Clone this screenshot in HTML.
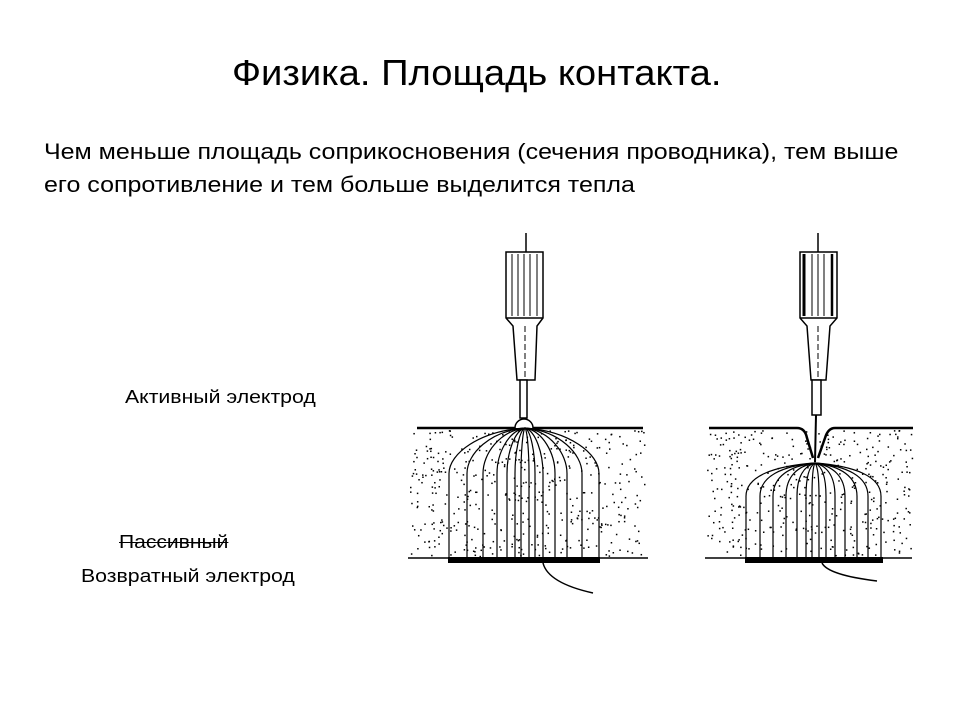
<!DOCTYPE html>
<html><head><meta charset="utf-8"><style>
body{margin:0;width:960px;height:720px;background:#fff;font-family:"Liberation Sans",sans-serif;position:relative;overflow:hidden;color:#000}
.t{position:absolute;white-space:nowrap;transform-origin:0 0}
</style></head><body>
<div class="t" style="left:232px;top:52px;font-size:36px;transform:scaleX(1.06)">Физика. Площадь контакта.</div>
<div class="t" style="left:44px;top:135px;font-size:22px;line-height:33px;transform:scaleX(1.136)">Чем меньше площадь соприкосновения (сечения проводника), тем выше<br>его сопротивление и тем больше выделится тепла</div>
<div class="t" style="left:125px;top:387px;font-size:18px;transform:scaleX(1.18)">Активный электрод</div>
<div class="t" style="left:119px;top:532px;font-size:18px;text-decoration:line-through;transform:scaleX(1.17)">Пассивный</div>
<div class="t" style="left:81px;top:566px;font-size:18px;transform:scaleX(1.18)">Возвратный электрод</div>
<svg width="960" height="720" style="position:absolute;left:0;top:0" fill="none" stroke="#000" stroke-width="1.5">
<g id="dots" fill="#000" stroke="none"></g>
<line x1="417" y1="428" x2="643" y2="428" stroke-width="2.5"/>
<line x1="408" y1="558" x2="648" y2="558" stroke-width="1.5"/>
<rect x="448" y="557" width="152" height="6" fill="#000" stroke="none"/>
<path d="M543 563 q5 20 50 30"/>
<line x1="526" y1="233" x2="526" y2="252"/>
<path d="M506 252 L543 252 L543 318 L537 326 L535 380 L517 380 L513 326 L506 318 Z" fill="#fff"/>
<line x1="506" y1="318" x2="543" y2="318"/>
<g stroke-width="1"><line x1="512" y1="254" x2="512" y2="316"/><line x1="518" y1="254" x2="518" y2="316"/><line x1="524" y1="254" x2="524" y2="316"/><line x1="530" y1="254" x2="530" y2="316"/><line x1="537" y1="254" x2="537" y2="316"/><line x1="525" y1="326" x2="525" y2="378" stroke-dasharray="6 3"/></g>
<rect x="520" y="380" width="7" height="38" fill="#fff"/>
<path d="M515 428 a9 9 0 0 1 18 0" fill="#fff"/>
<g id="fl"></g>
<path d="M709 428 L797 428 Q805 428 807 438 L813 458" stroke-width="2.5"/>
<path d="M913 428 L835 428 Q828 428 825 438 L818 458" stroke-width="2.5"/>
<line x1="705" y1="558" x2="912" y2="558"/>
<rect x="745" y="557" width="138" height="6" fill="#000" stroke="none"/>
<path d="M822 563 q6 12 55 18"/>
<line x1="818" y1="233" x2="818" y2="252"/>
<path d="M800 252 L837 252 L837 318 L830 326 L826 380 L811 380 L807 326 L800 318 Z" fill="#fff"/>
<line x1="800" y1="318" x2="837" y2="318"/>
<g stroke-width="1"><line x1="804" y1="254" x2="804" y2="316" stroke-width="3"/><line x1="812" y1="254" x2="812" y2="316"/><line x1="818" y1="254" x2="818" y2="316"/><line x1="824" y1="254" x2="824" y2="316"/><line x1="832" y1="254" x2="832" y2="316" stroke-width="2.5"/><line x1="818" y1="326" x2="818" y2="378" stroke-dasharray="6 3"/></g>
<rect x="812" y="380" width="9" height="35" fill="#fff"/>
<line x1="816" y1="415" x2="815" y2="462" stroke-width="2"/>
</svg>
<script>
var ns="http://www.w3.org/2000/svg",d=document.getElementById("dots"),f=document.getElementById("fl");
var s=7;function r(){s=(s*9301+49297)%233280;return s/233280;}
function dots(x0,x1,y0,y1,n){for(var i=0;i<n;i++){var c=document.createElementNS(ns,"rect");c.setAttribute("x",x0+r()*(x1-x0));c.setAttribute("y",y0+r()*(y1-y0));c.setAttribute("width",1.5);c.setAttribute("height",1.5);d.appendChild(c);}}
dots(410,646,430,556,450);dots(707,912,430,556,400);
function lines(cx,cy,xs,yb){xs.forEach(function(x){var p=document.createElementNS(ns,"path");var dx=x-cx;var yk=cy+(yb-cy)*0.35;p.setAttribute("d","M"+cx+" "+cy+" C"+(cx+dx*0.6)+" "+(cy+3)+" "+x+" "+(yk-20)+" "+x+" "+yk+" L"+x+" "+yb);p.setAttribute("stroke-width","1.2");f.appendChild(p);});}
lines(525,428,[449,467,483,497,507,515,521,529,535,543,555,567,582,599],558);
lines(815,463,[746,760,773,786,797,806,812,819,826,835,845,857,868,881],558);
</script>
</body></html>
